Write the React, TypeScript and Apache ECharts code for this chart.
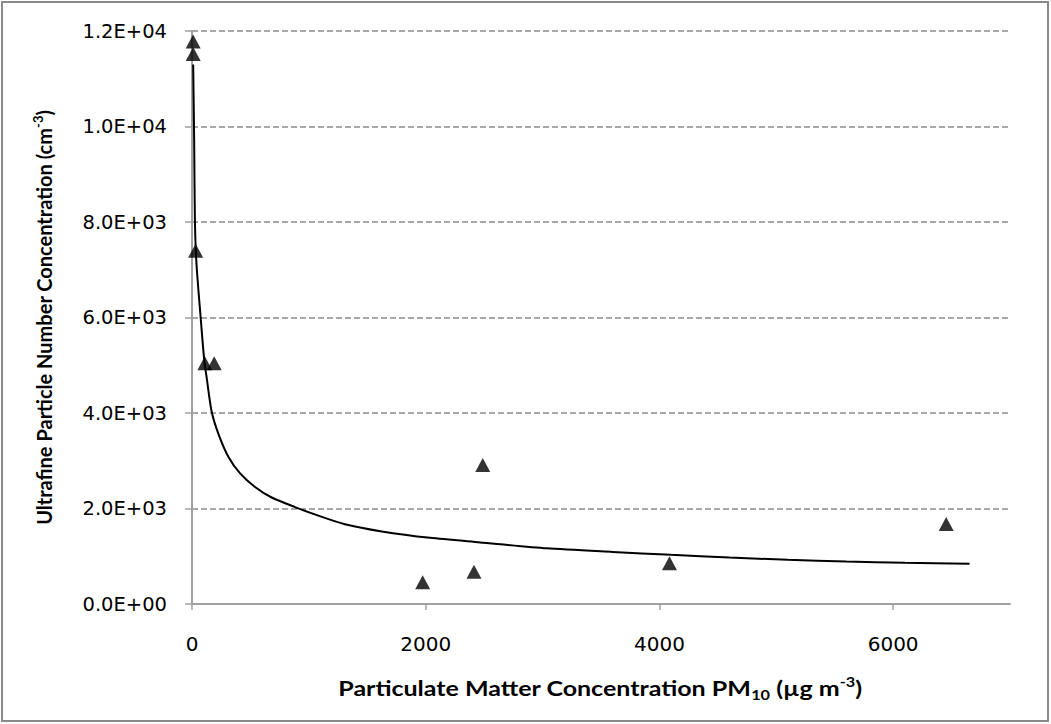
import React, { useEffect, useRef } from 'react';
import * as echarts from 'echarts';

// Measured points: PM10 (µg m-3) vs ultrafine particle number concentration (cm-3)
const pmValues = [10, 10, 31, 110, 190, 1974, 2413, 2488, 4086, 6454];
const ufpValues = [11780, 11520, 7400, 5040, 5040, 454, 677, 2911, 852, 1675];

// Trend line
const trendX = [10, 19, 25, 39, 74, 105, 125, 168, 225, 311, 410, 539, 682, 881, 1081, 1309, 1624, 2037, 2465, 3036, 3600, 4100, 4600, 5100, 5600, 6100, 6654];
const trendY = [11300, 9600, 8000, 7100, 6000, 5100, 4750, 4030, 3570, 3085, 2740, 2450, 2230, 2030, 1850, 1670, 1520, 1385, 1290, 1166, 1090, 1030, 975, 925, 890, 862, 845];

const xTicks = [0, 2000, 4000, 6000];

const xTitle = 'Particulate Matter Concentration PM{sub|10} (µg m{sup|-3})';
const yTitle = 'Ultrafine Particle Number Concentration (cm{sup|-3})';

const fmtExp = (v: number) => {
  const s = v.toExponential(1);
  const [m, e] = s.split('e');
  const sign = e[0] === '-' ? '-' : '+';
  const digits = e.replace(/[+-]/, '').padStart(2, '0');
  return `${m}E${sign}${digits}`;
};

export default function App() {
  const ref = useRef<HTMLDivElement>(null);
  useEffect(() => {
    document.body.style.margin = '0';
    if (!ref.current) return;
    const chart = echarts.init(ref.current, null, { renderer: 'svg' });
    const titleFont = 'Lato';
    const tickFont = 'DejaVu Sans';
    const richSubSup = {
      sub: { fontFamily: titleFont, fontWeight: 'bold', fontSize: 13, lineHeight: 13, verticalAlign: 'bottom', fill: '#000', color: '#000' },
      sup: { fontFamily: titleFont, fontWeight: 'bold', fontSize: 13, lineHeight: 13, verticalAlign: 'top', fill: '#000', color: '#000' },
    };
    chart.setOption({
      animation: false,
      backgroundColor: '#ffffff',
      graphic: [
        {
          type: 'rect',
          shape: { x: 2, y: 2, width: 1046, height: 719 },
          style: { fill: 'none', stroke: '#898989', lineWidth: 2 },
          silent: true,
        },
        {
          type: 'text',
          x: 600,
          y: 688,
          scaleX: 1.25,
          silent: true,
          style: {
            text: xTitle,
            fontFamily: titleFont,
            fontWeight: 'bold',
            fontSize: 20,
            lineHeight: 26,
            fill: '#000',
            align: 'center',
            verticalAlign: 'middle',
            rich: richSubSup,
          },
        },
      ],
      grid: { left: 192, right: 41, top: 31, bottom: 120, containLabel: false },
      xAxis: {
        type: 'value',
        min: 0,
        max: 7000,
        interval: 2000,
        axisLine: { show: true, lineStyle: { color: '#a0a0a0', width: 2 } },
        axisTick: { show: true, length: 6, lineStyle: { color: '#a0a0a0', width: 1.5 }, customValues: xTicks },
        axisLabel: {
          customValues: xTicks,
          margin: 30,
          fontFamily: tickFont,
          fontSize: 20,
          color: '#000',
          formatter: (v: number) => String(v),
        },
        splitLine: { show: false },
      },
      yAxis: {
        type: 'value',
        min: 0,
        max: 12000,
        interval: 2000,
        name: yTitle,
        nameLocation: 'middle',
        nameGap: 135,
        nameTextStyle: {
          fontFamily: titleFont,
          fontWeight: 'bold',
          fontSize: 20,
          color: '#000',
          lineHeight: 26,
          rich: richSubSup,
        },
        axisLine: { show: true, lineStyle: { color: '#a0a0a0', width: 2 } },
        axisTick: { show: true, length: 7, lineStyle: { color: '#a0a0a0', width: 1.5 } },
        axisLabel: {
          margin: 25,
          fontFamily: tickFont,
          fontSize: 19.5,
          color: '#000',
          formatter: (v: number) => fmtExp(v),
        },
        splitLine: { show: true, lineStyle: { color: '#8c8c8c', width: 1.5, type: [6, 3] } },
      },
      series: [
        {
          type: 'line',
          data: trendX.map((x, i) => [x, trendY[i]]),
          showSymbol: false,
          smooth: 0.25,
          lineStyle: { color: '#000', width: 2 },
          z: 2,
        },
        {
          type: 'scatter',
          data: pmValues.map((x, i) => [x, ufpValues[i]]),
          symbol: 'triangle',
          symbolSize: [15, 14],
          itemStyle: { color: '#000' },
          z: 3,
        },
      ],
    });
    return () => chart.dispose();
  }, []);
  return <div ref={ref} style={{ width: 1051, height: 724 }} />;
}
